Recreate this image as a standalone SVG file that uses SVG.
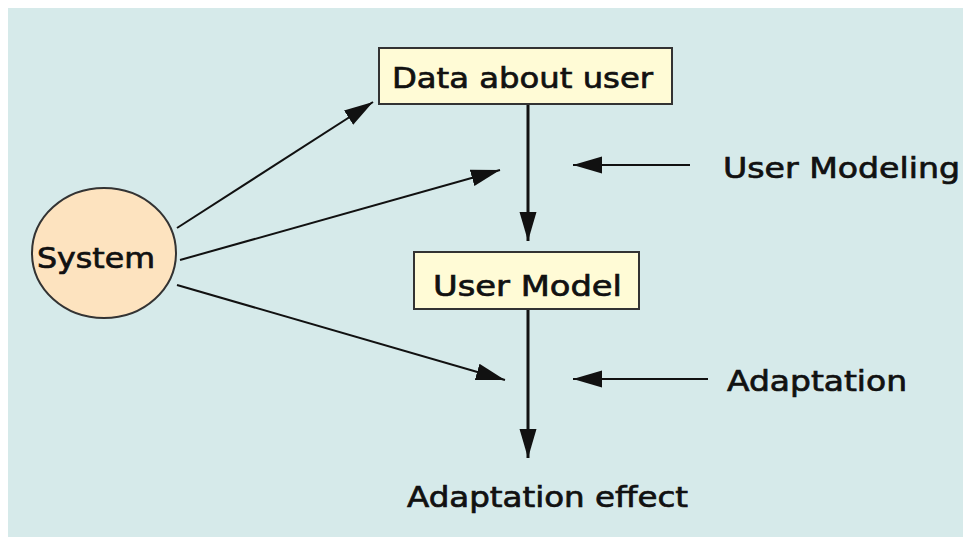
<svg xmlns="http://www.w3.org/2000/svg" width="963" height="537" viewBox="0 0 963 537">
<style>
.lbl{font-family:"DejaVu Sans","Liberation Sans",sans-serif;font-size:28px;fill:#111;stroke:#111;stroke-width:0.7;}
.box{fill:#fffbd6;stroke:#333;stroke-width:2;}
.ln{stroke:#111;stroke-width:2;fill:none;marker-end:url(#ah);}
.lnv{stroke:#111;stroke-width:3;fill:none;marker-end:url(#ah);}
</style>
<defs>
<marker id="ah" markerUnits="userSpaceOnUse" markerWidth="32" markerHeight="18" refX="29" refY="8.5" orient="auto">
<path d="M0,0 L29,8.5 L0,17 Z" fill="#111"/>
</marker>
</defs>
<rect x="0" y="0" width="963" height="537" fill="#ffffff"/>
<rect x="8" y="8" width="955" height="529" fill="#d6eaea"/>
<g id="connectors">
<line class="ln" x1="177" y1="228" x2="373" y2="102"/>
<line class="ln" x1="180" y1="260" x2="500" y2="170"/>
<line class="ln" x1="177" y1="285" x2="505" y2="380"/>
<line class="lnv" x1="528" y1="105" x2="528" y2="241"/>
<line class="lnv" x1="528" y1="310" x2="528" y2="458"/>
<line class="ln" x1="690" y1="165" x2="573" y2="165"/>
<line class="ln" x1="708" y1="379" x2="573" y2="379"/>
</g>
<g id="system">
<ellipse cx="104" cy="253" rx="72" ry="65" fill="#fde3bf" stroke="#333" stroke-width="2"/>
<text class="lbl" x="96" y="268" text-anchor="middle" textLength="118" lengthAdjust="spacingAndGlyphs">System</text>
</g>
<g id="data-about-user">
<rect class="box" x="379" y="48" width="293" height="56"/>
<text class="lbl" x="392" y="88" textLength="261" lengthAdjust="spacingAndGlyphs">Data about user</text>
</g>
<g id="user-model">
<rect class="box" x="414" y="252" width="225" height="57"/>
<text class="lbl" x="433" y="296" textLength="189" lengthAdjust="spacingAndGlyphs">User Model</text>
</g>
<g id="user-modeling">
<text class="lbl" x="723" y="178" textLength="237" lengthAdjust="spacingAndGlyphs">User Modeling</text>
</g>
<g id="adaptation">
<text class="lbl" x="727" y="391" textLength="180" lengthAdjust="spacingAndGlyphs">Adaptation</text>
</g>
<g id="adaptation-effect">
<text class="lbl" x="407" y="507" textLength="281" lengthAdjust="spacingAndGlyphs">Adaptation effect</text>
</g>
</svg>
